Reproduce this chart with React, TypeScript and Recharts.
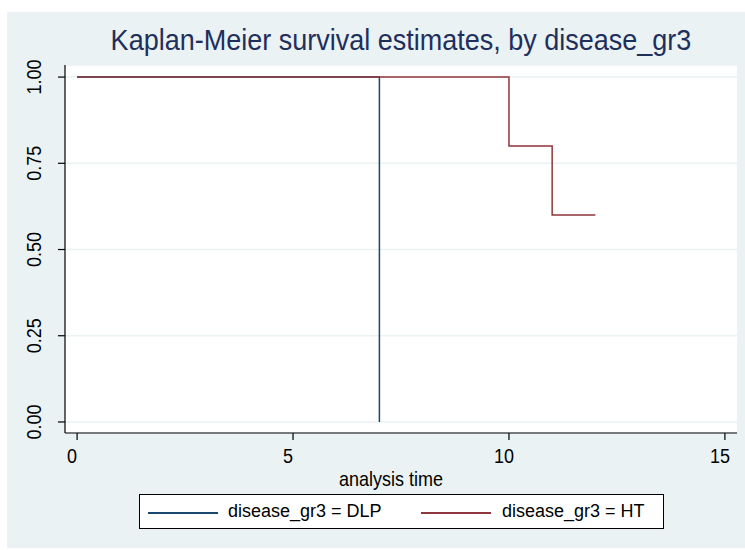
import React from 'react';
import { LineChart, Line, XAxis, YAxis, CartesianGrid } from 'recharts';

// Kaplan-Meier step estimates
const dlpTime = [0, 7];
const dlpSurv = [1, 0];
const htTime = [0, 10, 11, 12];
const htSurv = [1, 0.8, 0.6, 0.6];

const xTicks = [0, 5, 10, 15];
const yTicks = [0, 0.25, 0.5, 0.75, 1];

const seriesNames = ['disease_gr3 = DLP', 'disease_gr3 = HT'];
const seriesColors = ['#1a476f', '#90353b'];

const titleText = 'Kaplan-Meier survival estimates, by disease_gr3';
const xTitle = 'analysis time';

const dlpData = dlpTime.map((t, i) => ({ t, s: dlpSurv[i] }));
const htData = htTime.map((t, i) => ({ t, s: htSurv[i] }));

const FONT = '"Liberation Sans", Arial, sans-serif';
const BG = '#eaf2f3';

const YTick = (props: any) => {
  const { x, y, payload } = props;
  return (
    <text
      transform={`translate(${x}, ${y}) rotate(-90) scale(1, 1.08)`}
      textAnchor="middle"
      fontSize={18}
      fontFamily={FONT}
      fill="#000"
    >
      {Number(payload.value).toFixed(2)}
    </text>
  );
};

const XTick = (props: any) => {
  const { x, y, payload } = props;
  // stata draws these a touch left of the tick
  return (
    <text
      transform={`translate(${x - 5}, ${y + 23}) scale(1, 1.08)`}
      textAnchor="middle"
      fontSize={18}
      fontFamily={FONT}
      fill="#000"
    >
      {payload.value}
    </text>
  );
};

const XTitle = (props: any) => {
  const vb = props.viewBox || {};
  return (
    <text
      transform={`translate(${vb.x + vb.width / 2 - 10}, 486) scale(1, 1.08)`}
      textAnchor="middle"
      fontSize={18}
      fontFamily={FONT}
      fill="#000"
    >
      {xTitle}
    </text>
  );
};

const legendPos = [
  { line: 8, text: 88 },
  { line: 281, text: 362 },
];

export default function App() {
  return (
    <div style={{ position: 'absolute', left: 0, top: 0, width: 745, height: 550, background: '#fff' }}>
      <div style={{ position: 'absolute', left: 7, top: 12, width: 738, height: 536, background: BG }} />
      <div
        style={{
          position: 'absolute',
          left: 401,
          top: 55,
          transform: 'translate(-50%, -100%) scaleY(1.1)',
          transformOrigin: '50% 100%',
          fontFamily: FONT,
          fontSize: 27,
          lineHeight: '27px',
          color: '#1f2f5c',
          whiteSpace: 'nowrap',
        }}
      >
        {titleText}
      </div>
      <div style={{ position: 'absolute', left: 0, top: 0 }}>
        <LineChart
          width={745}
          height={550}
          margin={{ top: 65, right: 8, bottom: 0, left: 0 }}
        >
          <CartesianGrid vertical={false} stroke={BG} strokeWidth={1.5} fill="#fff" fillOpacity={1} />
          <XAxis
            dataKey="t"
            type="number"
            domain={[-0.28, 15.28]}
            ticks={xTicks}
            allowDataOverflow
            height={117}
            axisLine={{ stroke: '#000', strokeWidth: 1.2 }}
            tickLine={{ stroke: '#000', strokeWidth: 1.2 }}
            tickSize={7}
            tickMargin={0}
            tick={<XTick />}
            label={<XTitle />}
          />
          <YAxis
            type="number"
            domain={[-0.032, 1.035]}
            ticks={yTicks}
            allowDataOverflow
            width={65}
            axisLine={{ stroke: '#000', strokeWidth: 1.2 }}
            tickLine={{ stroke: '#000', strokeWidth: 1.2 }}
            tickSize={7}
            tickMargin={17}
            tick={<YTick />}
          />
          <Line
            data={dlpData}
            dataKey="s"
            type="stepAfter"
            stroke={seriesColors[0]}
            strokeWidth={1.5}
            dot={false}
            activeDot={false}
            isAnimationActive={false}
          />
          <Line
            data={htData}
            dataKey="s"
            type="stepAfter"
            stroke={seriesColors[1]}
            strokeWidth={1.5}
            dot={false}
            activeDot={false}
            isAnimationActive={false}
          />
        </LineChart>
      </div>
      <div
        style={{
          position: 'absolute',
          left: 139,
          top: 494,
          width: 523,
          height: 33,
          border: '1px solid #000',
          background: '#fff',
          fontFamily: FONT,
          fontSize: 18,
        }}
      >
        {seriesNames.map((name, i) => (
          <React.Fragment key={name}>
            <div
              style={{
                position: 'absolute',
                left: legendPos[i].line,
                top: 17,
                width: 70,
                height: 1.5,
                background: seriesColors[i],
              }}
            />
            <div
              style={{
                position: 'absolute',
                left: legendPos[i].text,
                top: 6,
                lineHeight: '21px',
                whiteSpace: 'nowrap',
                color: '#000',
              }}
            >
              {name}
            </div>
          </React.Fragment>
        ))}
      </div>
    </div>
  );
}
